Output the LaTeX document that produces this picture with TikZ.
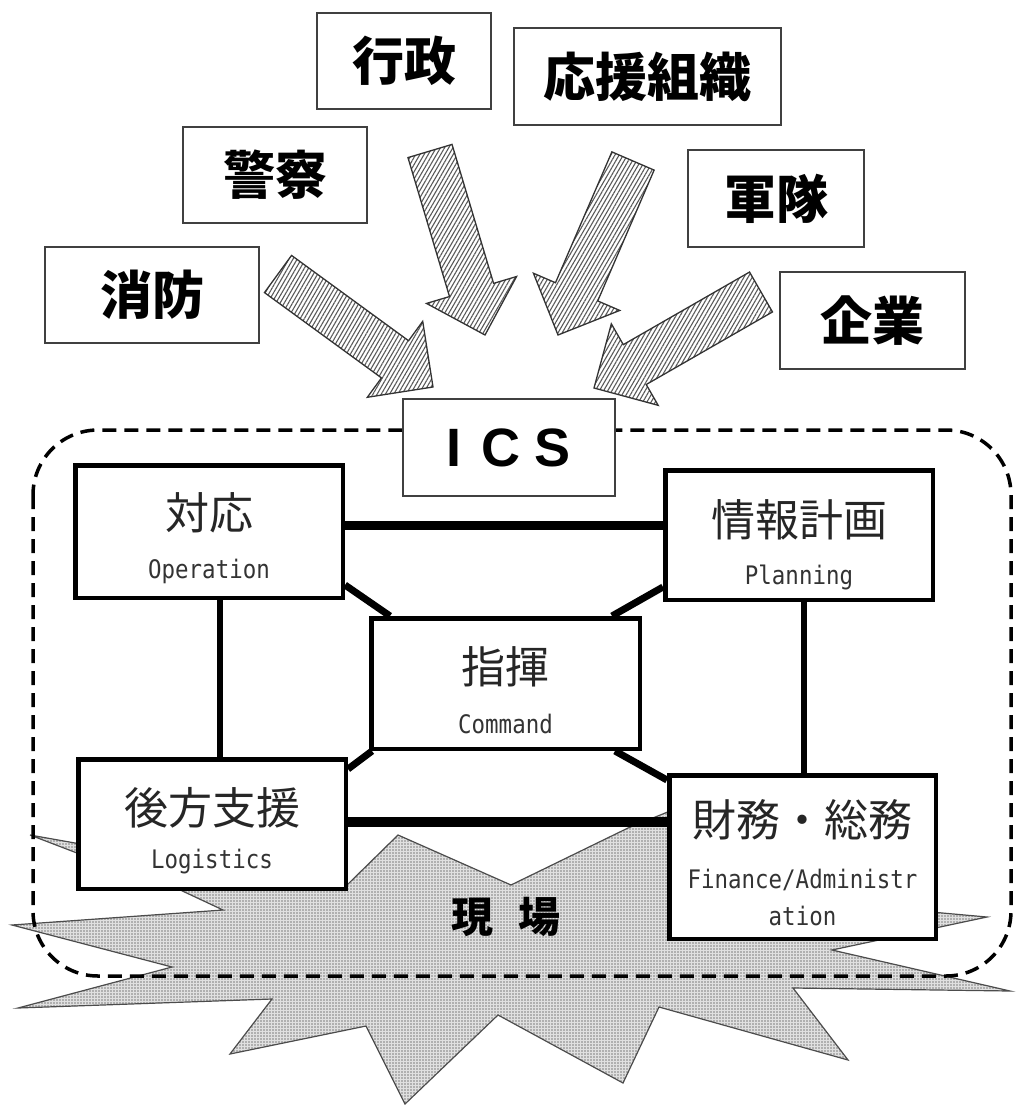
\documentclass[tikz,border=0pt]{standalone}
\usepackage{fontspec}
\usetikzlibrary{calc,patterns.meta}
\newfontfamily\jpfont{Noto Sans CJK JP}
\newfontfamily\icsfont{Liberation Sans}
\newfontfamily\enlabelfont{DejaVu Sans Mono}[FakeStretch=0.88]

\pgfdeclarelayer{far}
\pgfdeclarelayer{near}
\pgfsetlayers{far,near,main}

% block arrow from tail (#2) to tip (#1)
\newcommand\drawinflow[2]{%
  \coordinate (#1-h) at ($(#1)!47pt!(#2)$);
  \path[hatched] (#1)
    -- ($(#1-h)!47pt!90:(#1)$) -- ($(#1-h)!23pt!90:(#1)$)
    -- ($(#2)!23pt!90:(#1)$) -- ($(#2)!23pt!-90:(#1)$)
    -- ($(#1-h)!23pt!-90:(#1)$) -- ($(#1-h)!47pt!-90:(#1)$) -- cycle;}

\begin{document}
\begin{tikzpicture}[x=1pt,y=-1pt,
  source/.style={draw=black!75, line width=2pt, fill=white, inner sep=0pt,
    font=\jpfont\bfseries\fontsize{52}{60}\selectfont},
  unit/.style={draw=black, line width=4.5pt, fill=white, inner sep=0pt},
  jp/.style={font=\jpfont\fontsize{44}{50}\selectfont, text=black!85, inner sep=0pt},
  en/.style={font=\enlabelfont\fontsize{25.5}{37}\selectfont, text=black!80, inner sep=0pt, align=center},
  link/.style={draw=black, line cap=butt},
  hatched/.style={draw=black!80, line width=1.3pt, pattern={Lines[angle=60,distance=3.6pt,line width=1.1pt]}, pattern color=black!65},
  burst/.style={draw=black!70, line width=1.2pt, preaction={fill=black!12},
    pattern={Dots[distance=3pt,radius=0.8pt]}, pattern color=black!50},
  region/.style={draw=black, line width=3.5pt, dash pattern=on 14pt off 8pt, rounded corners=65pt}
]
\useasboundingbox (0,0) rectangle (1015,1105);

% organisations feeding in
\node[source, minimum width=174pt, minimum height=96pt] (gyosei) at (404,61) {行政};
\node[source, minimum width=267pt, minimum height=97pt] (oen) at (647.5,76.5) {応援組織};
\node[source, minimum width=184pt, minimum height=96pt] (keisatsu) at (275,175) {警察};
\node[source, minimum width=176pt, minimum height=97pt] (gun) at (776,198.5) {軍隊};
\node[source, minimum width=214pt, minimum height=96pt] (shobo) at (152,295) {消防};
\node[source, minimum width=185pt, minimum height=97pt] (kigyo) at (872.5,320.5) {企業};

% ICS title box
\node[source, minimum width=212pt, minimum height=97pt, font=\icsfont\bfseries\fontsize{54}{60}\selectfont] (ics) at (509,447.5) {I\hspace{20pt}C\hspace{14pt}S};

% hatched arrows
\coordinate (a1) at (433,387); \coordinate (a1t) at (278,274);
\coordinate (a2) at (485,335); \coordinate (a2t) at (430,151);
\coordinate (a3) at (558,335); \coordinate (a3t) at (633,161);
\coordinate (a4) at (594,388); \coordinate (a4t) at (761,292);
\drawinflow{a1}{a1t}
\drawinflow{a2}{a2t}
\drawinflow{a3}{a3t}
\drawinflow{a4}{a4t}

% ICS sections
\node[unit, minimum width=267.5pt, minimum height=132.5pt] (ops) at (209,531.5) {};
\node[unit, minimum width=267.5pt, minimum height=129.5pt] (plan) at (799,535) {};
\node[unit, minimum width=268.5pt, minimum height=130.5pt] (cmd) at (505.5,683.5) {};
\node[unit, minimum width=267.5pt, minimum height=129.5pt] (log) at (212,824) {};
\node[unit, minimum width=266.5pt, minimum height=163.5pt] (fin) at (802.5,857) {};

\node[jp] (opsjp) at ($(ops.north)+(0,50)$) {対応};
\node[en] (opsen) at ($(ops.north)+(0,108)$) {Operation};
\node[jp] (planjp) at ($(plan.north)+(0,52)$) {情報計画};
\node[en] (planen) at ($(plan.north)+(0,109)$) {Planning};
\node[jp] (cmdjp) at ($(cmd.north)+(0,51)$) {指揮};
\node[en] (cmden) at ($(cmd.north)+(0,108)$) {Command};
\node[jp] (logjp) at ($(log.north)+(0,51)$) {後方支援};
\node[en] (logen) at ($(log.north)+(0,105)$) {Logistics};
\node[jp] (finjp) at ($(fin.north)+(0,47)$) {財務・総務};
\node[en] (finen) at ($(fin.north)+(0,124)$) {Finance/Administr\\ation};

% links between sections
\begin{pgfonlayer}{near}
\draw[link, line width=9pt] ([yshift=6.5pt]ops.east) -- ([yshift=6.5pt]ops.east -| plan.west);
\draw[link, line width=9.5pt] ([yshift=2pt]log.east) -- ([yshift=2pt]log.east -| fin.west);
\draw[link, line width=6pt] ([xshift=11pt]ops.south) -- ([xshift=11pt]ops.south |- log.north);
\draw[link, line width=6pt] ([xshift=5pt]plan.south) -- ([xshift=5pt]plan.south |- fin.north);
\draw[link, line width=7pt] ([yshift=15pt]ops.south east) -- ([xshift=21pt]cmd.north west);
\draw[link, line width=7pt] ([yshift=15pt]plan.south west) -- ([xshift=-30pt]cmd.north east);
\draw[link, line width=7pt] ([xshift=3pt]cmd.south west) -- ([yshift=-12pt]log.north east);
\draw[link, line width=7pt] ([xshift=-27pt]cmd.south east) -- ([yshift=-7pt]fin.north west);
\end{pgfonlayer}

% the scene: burst and dashed boundary
\begin{pgfonlayer}{far}
\path[burst] (30,835) -- (120,851) -- (344,888) -- (398,835) -- (511,885)
  -- (628,828) -- (690,803) -- (920,911) -- (987,917) -- (832,950)
  -- (1010,991) -- (793,988) -- (848,1060) -- (659,1007) -- (623,1083)
  -- (498,1015) -- (405,1104) -- (366,1026) -- (230,1054) -- (272,999)
  -- (18,1008) -- (172,967) -- (12,925) -- (223,910) -- (176,888)
  -- (90,858) -- cycle;
\draw[region] (33,430) rectangle (1011,976);
\end{pgfonlayer}

\node[font=\jpfont\bfseries\fontsize{42}{48}\selectfont, inner sep=0pt] (genba) at (506,917) {現\hspace{0.6em}場};
\end{tikzpicture}
\end{document}
